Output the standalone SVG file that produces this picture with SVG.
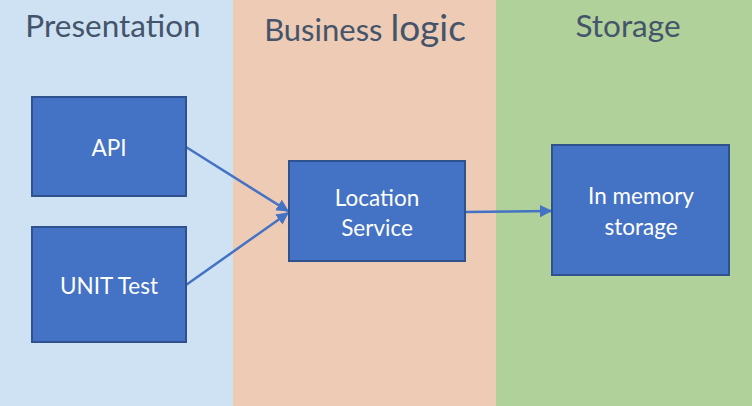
<svg xmlns="http://www.w3.org/2000/svg" width="752" height="406" viewBox="0 0 752 406">
<style>
.box{fill:#4472c4;stroke:#2f528f;stroke-width:2}
.lbl{font-family:Lato,"Open Sans",sans-serif;font-size:22.5px;fill:#ffffff;text-anchor:middle}
.hd{font-family:Lato,"Open Sans",sans-serif;fill:#44546a;text-anchor:middle}
.conn{stroke:#4472c4;stroke-width:2.5;fill:none;marker-end:url(#ah)}
</style>
<defs>
<marker id="ah" viewBox="0 0 10 10" refX="9" refY="5" markerWidth="5" markerHeight="5" orient="auto" markerUnits="strokeWidth">
<path d="M0,0 L10,5 L0,10 z" fill="#4472c4"/>
</marker>
</defs>
<g id="lanes">
<rect x="0" y="0" width="233" height="406" fill="#cfe2f3"/>
<rect x="233" y="0" width="263" height="406" fill="#eecbb5"/>
<rect x="496" y="0" width="256" height="406" fill="#b0d19a"/>
<text class="hd" x="113" y="37" font-size="31.5">Presentation</text>
<text class="hd" x="365" y="41" font-size="31">Business <tspan font-size="37">logic</tspan></text>
<text class="hd" x="628" y="37" font-size="31.5">Storage</text>
</g>
<g id="connectors">
<line class="conn" x1="186" y1="147" x2="288" y2="211"/>
<line class="conn" x1="186" y1="285" x2="288" y2="213"/>
<line class="conn" x1="466" y1="212" x2="551" y2="211"/>
</g>
<g id="api">
<rect class="box" x="32" y="97" width="154" height="99"/>
<text class="lbl" x="109" y="156">API</text>
</g>
<g id="unit-test">
<rect class="box" x="32" y="227" width="154" height="115"/>
<text class="lbl" x="109" y="294">UNIT Test</text>
</g>
<g id="location-service">
<rect class="box" x="289" y="161" width="176" height="100"/>
<text class="lbl" x="377" y="206">Location</text>
<text class="lbl" x="377" y="236">Service</text>
</g>
<g id="in-memory-storage">
<rect class="box" x="552" y="145" width="177" height="130"/>
<text class="lbl" x="641" y="204">In memory</text>
<text class="lbl" x="641" y="235">storage</text>
</g>
</svg>
